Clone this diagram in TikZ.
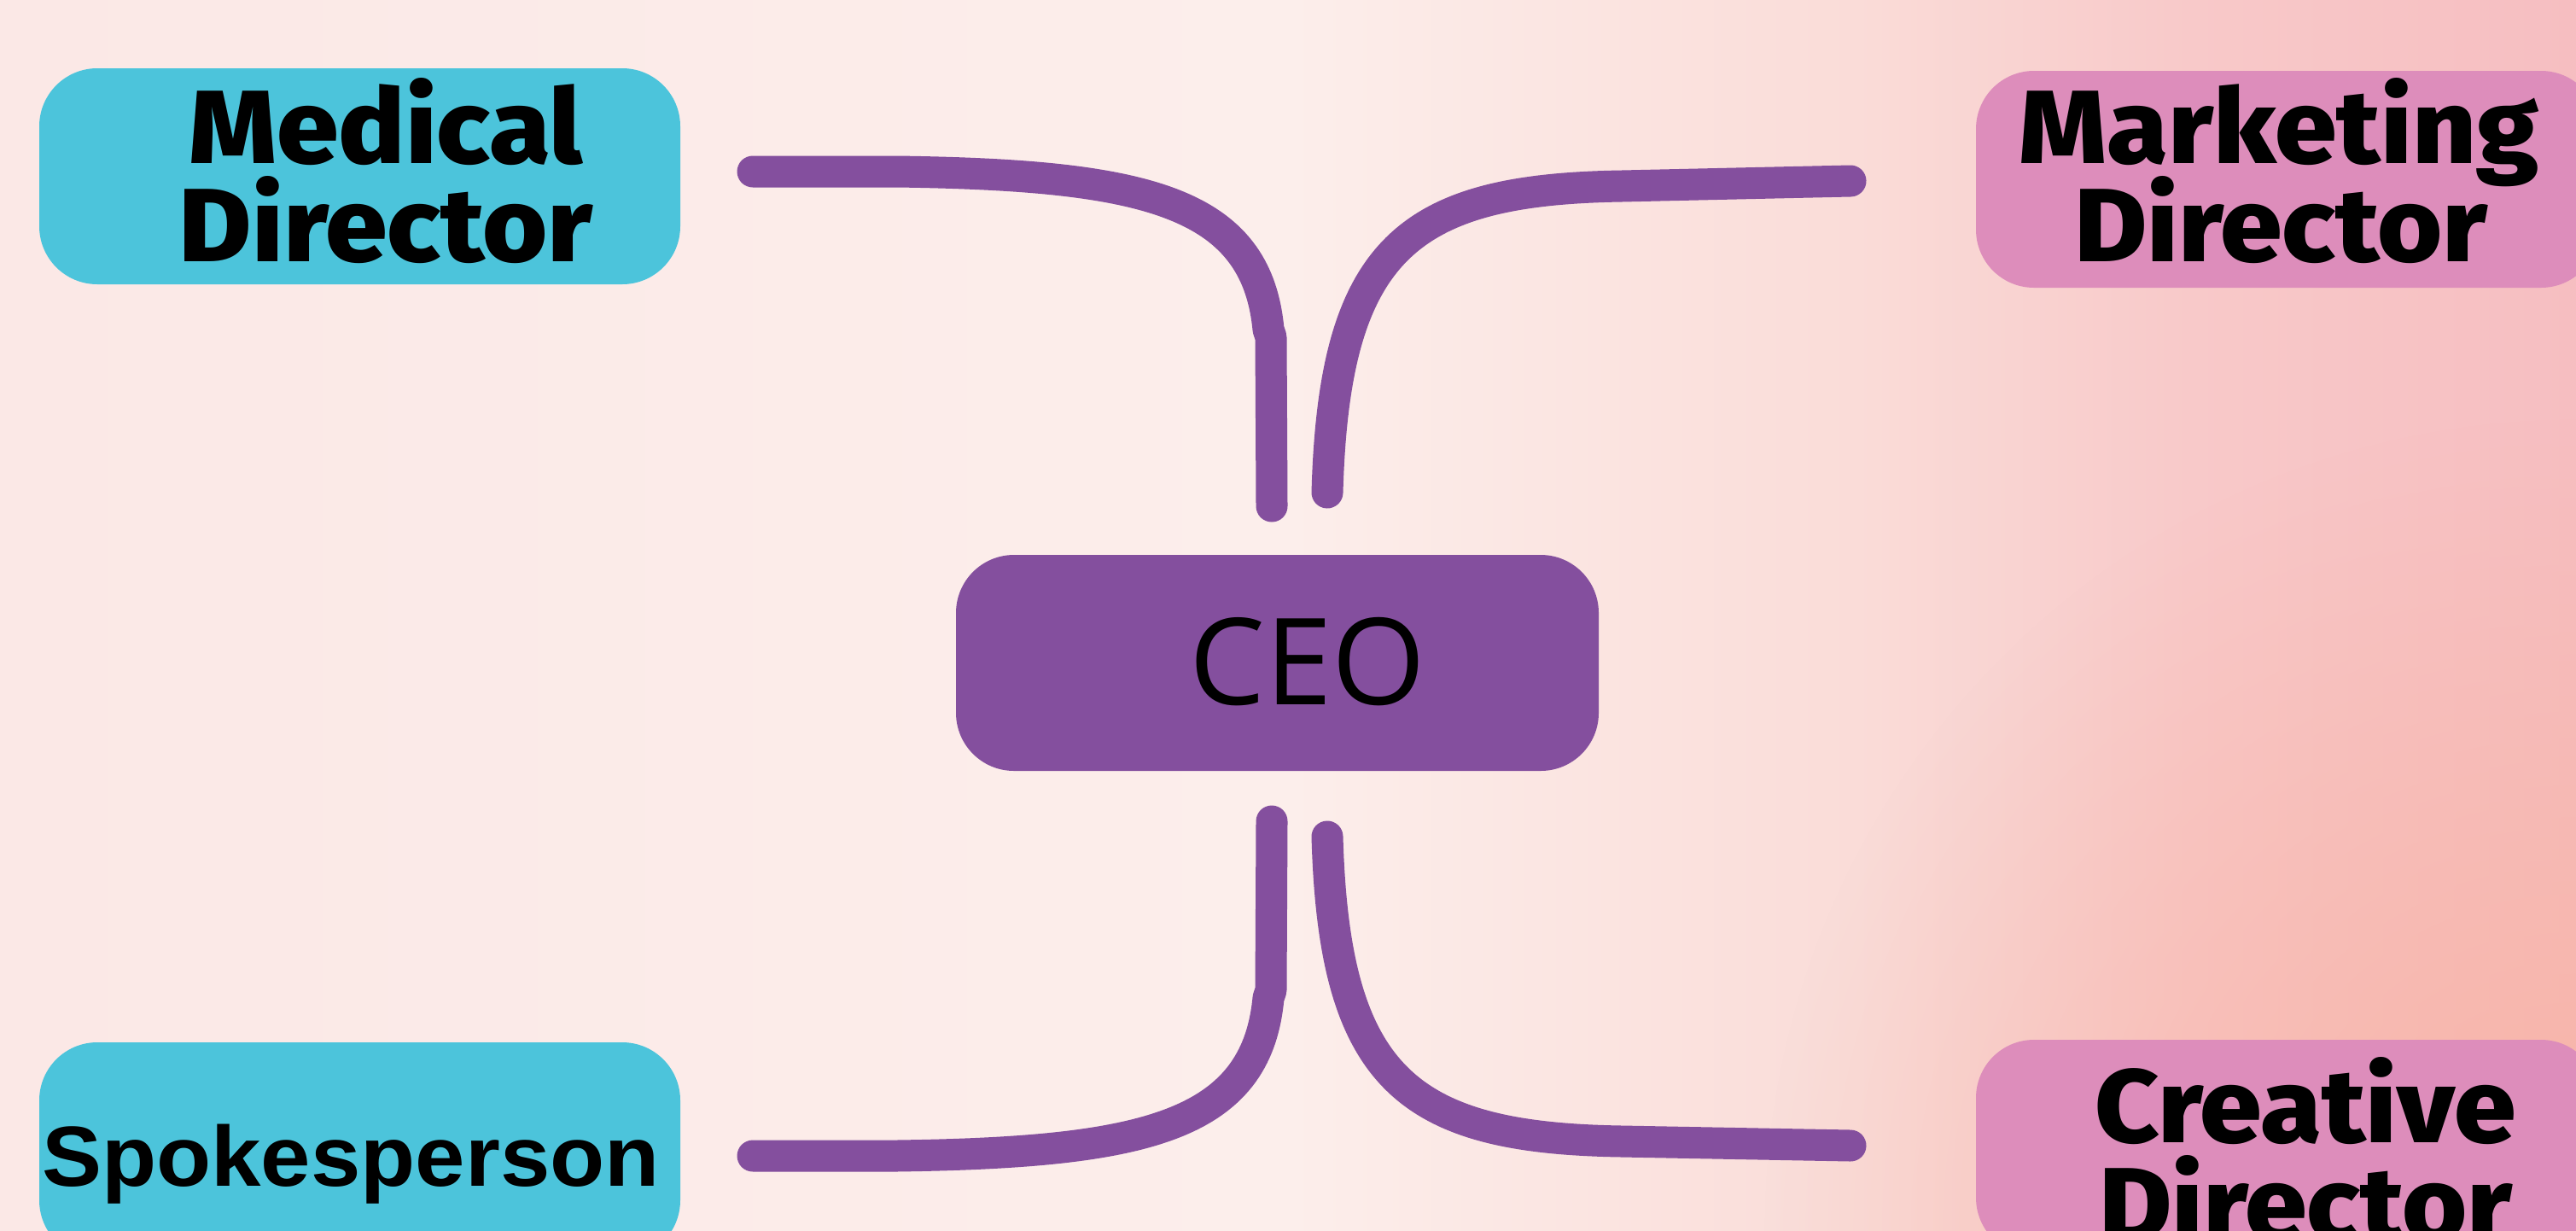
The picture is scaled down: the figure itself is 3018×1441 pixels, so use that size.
\documentclass[tikz,border=0pt]{standalone}
\usepackage{fontspec}
\setmainfont{Fira Sans}[BoldFont={Fira Sans ExtraBold}]
\newfontfamily\spkfont{Liberation Sans}
\newfontfamily\ceofont{Open Sans}
\usetikzlibrary{fadings}
\newcommand{\widetxt}[1]{\scalebox{1.07}[1]{#1}}
\definecolor{cyanbox}{HTML}{4CC4DB}
\definecolor{pinkbox}{HTML}{DD8DBB}
\definecolor{purp}{HTML}{844F9E}
\definecolor{salmon}{HTML}{F8B2A2}
\definecolor{bgA}{HTML}{FBE8E6}
\definecolor{bgB}{HTML}{FCEEEB}
\definecolor{bgC}{HTML}{FADCD8}
\definecolor{bgD}{HTML}{F8C9C9}
\definecolor{bgE}{HTML}{F6BEC1}
\pgfdeclarehorizontalshading{bgshade}{100bp}{color(0bp)=(bgA); color(25bp)=(bgA); color(50bp)=(bgB); color(61bp)=(bgC); color(67.5bp)=(bgD); color(75bp)=(bgE); color(100bp)=(bgE)}
\tikzfading[name=radfade, inner color=transparent!0, outer color=transparent!100]
\begin{document}
\begin{tikzpicture}[x=1pt,y=-1pt,
  box/.style={rounded corners=68pt, minimum width=751pt, minimum height=253pt, inner sep=0pt},
  conn/.style={draw=purp, line width=37pt, line cap=round, line join=round},
  lbl/.style={font=\bfseries\fontsize{122}{115}\selectfont, anchor=base, inner sep=0pt},
  ceolbl/.style={font=\ceofont\fontsize{141}{150}\selectfont, anchor=base, inner sep=0pt},
  spklbl/.style={font=\spkfont\bfseries\fontsize{100}{100}\selectfont, anchor=base, inner sep=0pt}]
\useasboundingbox (0,0) rectangle (3018,1441);
\begin{scope}
  \clip (0,0) rectangle (3018,1441);
  \shade[shading=bgshade] (0,0) rectangle (3018,1441);
  \fill[salmon, path fading=radfade, opacity=0.85] (3018,1441) circle (950pt);
  % boxes
  \node[box, fill=cyanbox] (med) at (421.5,206.5) {};
  \node[box, fill=pinkbox, minimum width=730pt, minimum height=254pt] (mkt) at (2680,210) {};
  \node[box, fill=purp, minimum width=753pt] (ceo) at (1496.5,776.5) {};
  \node[box, fill=cyanbox] (spk) at (421.5,1347.5) {};
  \node[box, fill=pinkbox, minimum width=730pt] (cre) at (2680,1344.5) {};
  \node[lbl] (creB) at (2701,1453) {\widetxt{Director}};
\end{scope}
% labels
\node[lbl] (medA) at (452,191) {\widetxt{Medical}};
\node[lbl] (medB) at (452,306) {\widetxt{Director}};
\node[lbl] (mktA) at (2670,191) {\widetxt{Marketing}};
\node[lbl] (mktB) at (2672,306) {\widetxt{Director}};
\node[ceolbl] (ceoT) at (1532,825) {CEO};
\node[spklbl] (spkT) at (411,1389) {\scalebox{1.05}[1]{Spokesperson}};
\node[lbl] (creA) at (2701,1338) {\widetxt{Creative}};
% connector ends
\coordinate (c1a) at (882,201);
\coordinate (c1b) at (1490,593);
\coordinate (c2a) at (2168,212);
\coordinate (c2b) at (1555,577);
\coordinate (c3a) at (1490,962);
\coordinate (c3b) at (882,1354);
\coordinate (c4a) at (1555,980);
\coordinate (c4b) at (2168,1342);
\draw[conn] (c1a) -- (1050,201) .. controls (1340,205) and (1472,235) .. (1486,386) -- (1489,395) -- (c1b);
\draw[conn] (c2a) -- (1900,218) .. controls (1650,222) and (1563,290) .. (c2b);
\draw[conn] (c3a) -- (1489,1160) -- (1486,1169) .. controls (1472,1320) and (1340,1350) .. (1050,1354) -- (c3b);
\draw[conn] (c4a) .. controls (1563,1265) and (1650,1333) .. (1900,1337) -- (c4b);
\end{tikzpicture}
\end{document}
